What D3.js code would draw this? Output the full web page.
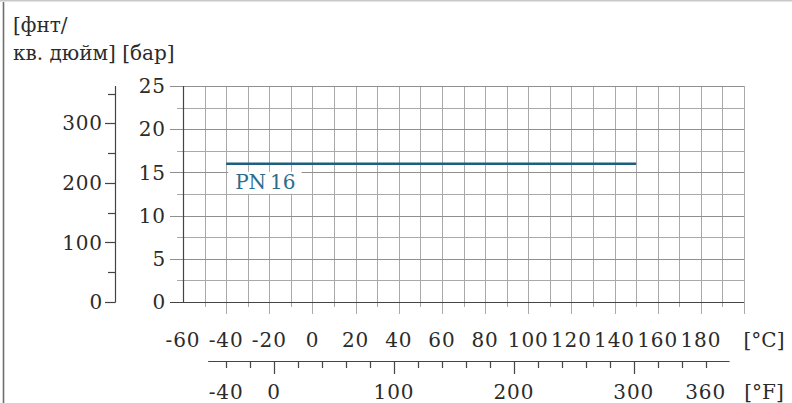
<!DOCTYPE html>
<html>
<head>
<meta charset="utf-8">
<script src="https://cdn.jsdelivr.net/npm/d3@7"></script>
<style>
  body { margin: 0; background: #fff; }
  svg text { font-family: "DejaVu Serif", serif; fill: #2b2b2b; }
  svg text.num { letter-spacing: 0.9px; }
</style>
</head>
<body>
<svg id="chart" width="792" height="403"></svg>
<script>
// values
const celsiusLabels = [-60, -40, -20, 0, 20, 40, 60, 80, 100, 120, 140, 160, 180];
const fahrenheitLabels = [-40, 0, 100, 200, 300, 360];
const barLabels = [0, 5, 10, 15, 20, 25];
const psiLabels = [0, 100, 200, 300];
const pnTemp = [-40, 150];     // °C
const pnPressure = [16, 16];   // bar
const pnName = "PN\u200916";

const svg = d3.select("svg#chart");

var x = d3.scaleLinear().domain([-60, 200]).range([183, 744]);
var y = d3.scaleLinear().domain([0, 25]).range([302, 86]);
// same range, other units
var xF = d3.scaleLinear().domain([-76, 392]).range(x.range());
var yPsi = d3.scaleLinear().domain([0, 25 * 14.5038]).range(y.range());

// frame
svg.append("line").attr("x1", 0).attr("x2", 792).attr("y1", 0.5).attr("y2", 0.5)
  .attr("stroke", "#c8c8c8").attr("stroke-width", 2);
svg.append("line").attr("x1", 3.5).attr("x2", 3.5).attr("y1", 2).attr("y2", 403)
  .attr("stroke", "#6e6e6e").attr("stroke-width", 1.6);

// title
let title = svg.append("text").attr("x", 13).attr("font-size", 20);
title.append("tspan").attr("x", 13).attr("y", 32).text("[фнт/");
title.append("tspan").attr("x", 13).attr("y", 60).text("кв. дюйм] [бар]");

let grid = svg.append("g").attr("stroke", "#a9a9a9").attr("stroke-width", 1);

// vertical grid, every 10 °C
grid.selectAll("line.v")
  .data(d3.range(-50, 201, 10))
  .enter().append("line")
  .attr("x1", d => Math.round(x(d)) + 0.5)
  .attr("x2", d => Math.round(x(d)) + 0.5)
  .attr("y1", y(25))
  .attr("y2", d => d % 20 === 0 ? 314 : 307);

// horizontal grid, every 2.5 bar
grid.selectAll("line.h")
  .data(d3.range(2.5, 25.1, 2.5))
  .enter().append("line")
  .attr("x1", d => d % 5 === 0 ? 170 : 177)
  .attr("x2", x(200))
  .attr("y1", d => Math.round(y(d)) + 0.5)
  .attr("y2", d => Math.round(y(d)) + 0.5)
  .attr("stroke", d => d % 5 === 0 ? "#8f8f8f" : "#a9a9a9");

// bar axis + x axis
svg.append("path")
  .attr("d", `M${x(-60) + 0.5},${y(25)}V${y(0) + 0.5}H${x(200)}`)
  .attr("fill", "none").attr("stroke", "#444").attr("stroke-width", 1.2);
svg.append("line")
  .attr("x1", 170).attr("x2", x(-60)).attr("y1", y(0) + 0.5).attr("y2", y(0) + 0.5)
  .attr("stroke", "#444");

svg.selectAll("text.bar")
  .data(barLabels)
  .enter().append("text")
  .attr("class", "num")
  .attr("x", 166)
  .attr("y", d => y(d))
  .attr("dy", "0.36em")
  .attr("text-anchor", "end")
  .attr("font-size", 20)
  .text(d => d);

// psi axis
let gPsi = svg.append("g").attr("stroke", "#444").attr("stroke-width", 1.2);
gPsi.append("line").attr("x1", 115.5).attr("x2", 115.5).attr("y1", y(25)).attr("y2", y(0) + 0.5);
gPsi.selectAll("line.t")
  .data(d3.range(0, 351, 50))
  .enter().append("line")
  .attr("x1", d => d % 100 === 0 ? 105 : 108)
  .attr("x2", 115.5)
  .attr("y1", d => Math.round(yPsi(d)) + 0.5)
  .attr("y2", d => Math.round(yPsi(d)) + 0.5);

svg.selectAll("text.psi")
  .data(psiLabels)
  .enter().append("text")
  .attr("class", "num")
  .attr("x", 103)
  .attr("y", d => yPsi(d))
  .attr("dy", "0.36em")
  .attr("text-anchor", "end")
  .attr("font-size", 20)
  .text(d => d);

// °C labels
svg.selectAll("text.c")
  .data(celsiusLabels)
  .enter().append("text")
  .attr("class", "num")
  .attr("x", d => x(d))
  .attr("y", 347)
  .attr("text-anchor", "middle")
  .attr("font-size", 20)
  .text(d => d);
svg.append("text").attr("x", 764).attr("y", 347).attr("text-anchor", "middle")
  .attr("font-size", 20).text("[°C]");

// °F axis
let gF = svg.append("g").attr("stroke", "#444").attr("stroke-width", 1.2);
gF.append("line").attr("x1", xF(-55)).attr("x2", xF(380)).attr("y1", 361.5).attr("y2", 361.5);
gF.selectAll("line.t")
  .data(d3.range(-40, 361, 20))
  .enter().append("line")
  .attr("x1", d => Math.round(xF(d)) + 0.5)
  .attr("x2", d => Math.round(xF(d)) + 0.5)
  .attr("y1", 361.5)
  .attr("y2", d => d % 100 === 0 ? 374 : 368);

svg.selectAll("text.f")
  .data(fahrenheitLabels)
  .enter().append("text")
  .attr("class", "num")
  .attr("x", d => xF(d))
  .attr("y", 399)
  .attr("text-anchor", "middle")
  .attr("font-size", 20)
  .text(d => d);
svg.append("text").attr("x", 764).attr("y", 399).attr("text-anchor", "middle")
  .attr("font-size", 20).text("[°F]");

// PN line
let pn = pnTemp.map((t, i) => [t, pnPressure[i]]);
svg.append("path")
  .datum(pn)
  .attr("d", d3.line().x(d => x(d[0])).y(d => y(d[1])))
  .attr("fill", "none")
  .attr("stroke", "#1d5f7e")
  .attr("stroke-width", 2.5);

let pnText = svg.append("text")
  .attr("x", x(pn[0][0]) + 9)
  .attr("y", y(pn[0][1]) + 25)
  .attr("font-size", 20)
  .style("fill", "#2a6d8c")
  .text(pnName);
let bb = pnText.node().getBBox();
svg.insert("rect", "text:last-child")
  .attr("x", bb.x - 7).attr("y", bb.y + 2)
  .attr("width", bb.width + 13).attr("height", bb.height - 2)
  .attr("fill", "#fff");
</script>
</body>
</html>
